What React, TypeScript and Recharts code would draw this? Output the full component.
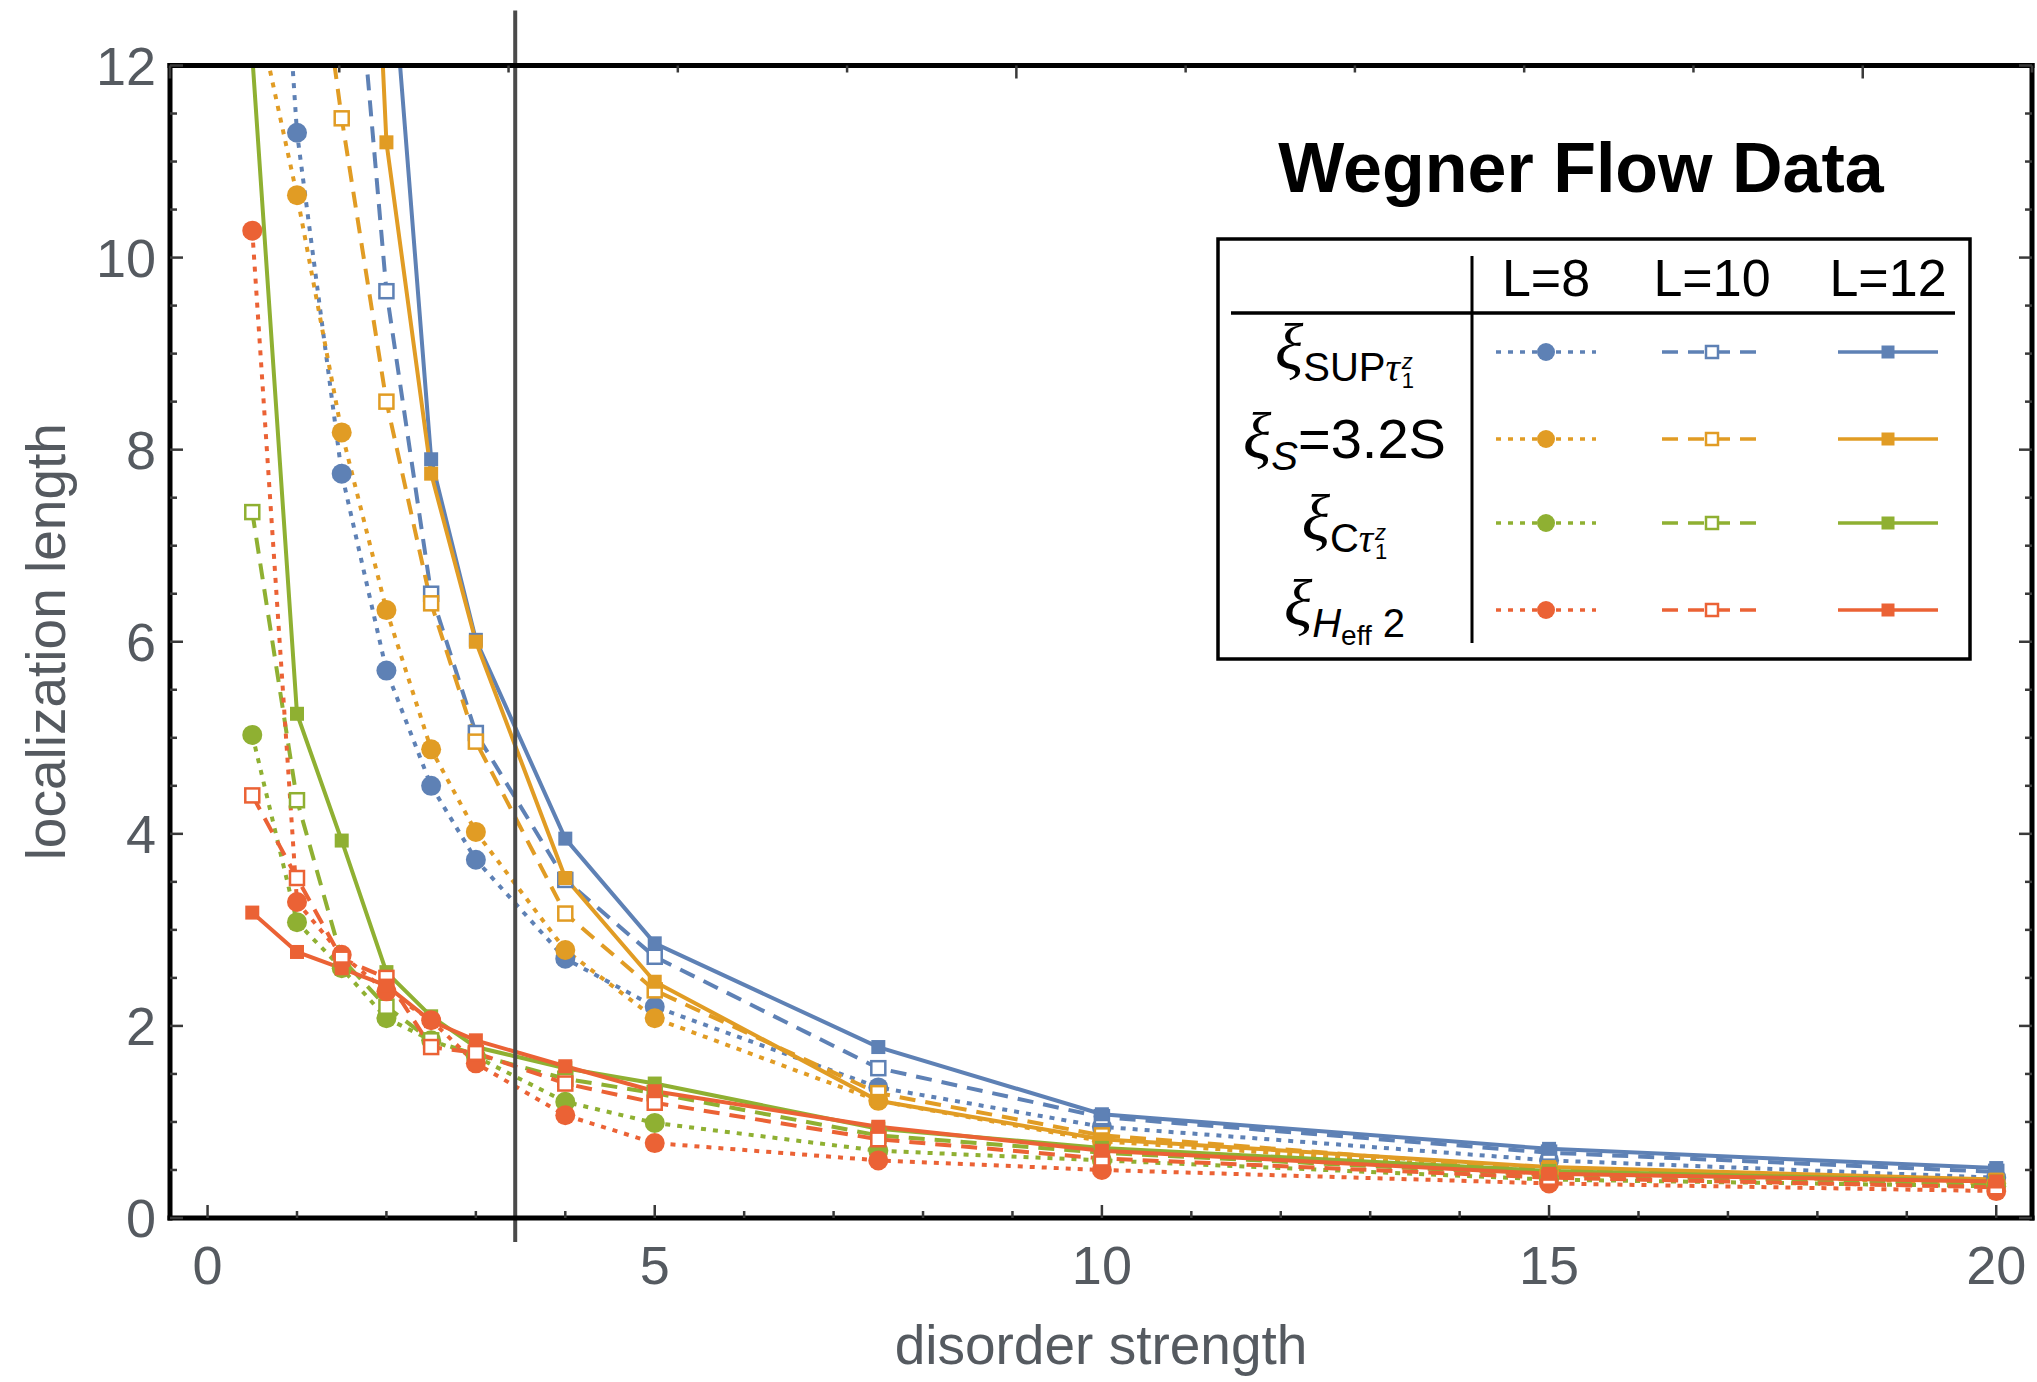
import React from 'react';
import { LineChart, Line, XAxis, YAxis, ReferenceLine, Legend } from 'recharts';

// disorder strengths where the flow was evaluated
const disorder = [0.5, 1, 1.5, 2, 2.5, 3, 4, 5, 7.5, 10, 15, 20];

// xi_SUP tau1z
const supL8 = [18.3, 11.3, 7.75, 5.7, 4.5, 3.73, 2.7, 2.2, 1.36, 0.95, 0.6, 0.42];
const supL10 = [30, 20, 15.0, 9.65, 6.5, 5.05, 3.52, 2.72, 1.56, 1.05, 0.68, 0.48];
const supL12 = [45, 30, 20, 13.8, 7.9, 6.02, 3.95, 2.86, 1.78, 1.08, 0.72, 0.52];
// xi_S = 3.2 S
const entL8 = [12.8, 10.65, 8.18, 6.33, 4.88, 4.02, 2.79, 2.08, 1.22, 0.8, 0.48, 0.36];
const entL10 = [22, 14.9, 11.45, 8.5, 6.4, 4.96, 3.17, 2.37, 1.3, 0.86, 0.5, 0.38];
const entL12 = [40, 28, 21.2, 11.2, 7.75, 6.0, 3.54, 2.46, 1.22, 0.82, 0.53, 0.4];
// xi_C tau1z
const corL8 = [5.03, 3.08, 2.6, 2.08, 1.85, 1.68, 1.21, 0.99, 0.7, 0.6, 0.4, 0.33];
const corL10 = [7.35, 4.35, 2.7, 2.2, 1.85, 1.7, 1.45, 1.3, 0.86, 0.68, 0.45, 0.35];
const corL12 = [12.1, 5.25, 3.93, 2.56, 2.1, 1.78, 1.56, 1.4, 0.93, 0.73, 0.49, 0.38];
// xi_Heff 2
const heffL8 = [10.28, 3.29, 2.74, 2.36, 2.06, 1.61, 1.07, 0.78, 0.6, 0.5, 0.36, 0.28];
const heffL10 = [4.4, 3.54, 2.7, 2.5, 1.78, 1.72, 1.4, 1.2, 0.82, 0.62, 0.42, 0.32];
const heffL12 = [3.18, 2.77, 2.6, 2.42, 2.05, 1.85, 1.58, 1.32, 0.95, 0.7, 0.46, 0.38];

const xTicks = [0, 1, 2, 3, 4, 5, 6, 7, 8, 9, 10, 11, 12, 13, 14, 15, 16, 17, 18, 19, 20];
const yTicks = [0, 0.5, 1, 1.5, 2, 2.5, 3, 3.5, 4, 4.5, 5, 5.5, 6, 6.5, 7, 7.5, 8, 8.5, 9, 9.5, 10, 10.5, 11, 11.5, 12];
const sizeLabels = ['L=8', 'L=10', 'L=12'];
const cutoff = 3.44;

const BLUE = '#5e81b5';
const ORANGE = '#e19c24';
const GREEN = '#8fb032';
const RED = '#eb6235';
const LABEL = '#555a60';
const TICK = '#3a3a3a';
const FONT = '"Liberation Sans", Arial, Helvetica, sans-serif';
const SERIF = '"Liberation Serif", "DejaVu Serif", serif';

const series = [
  { key: 'supL8', values: supL8, color: BLUE, kind: 'L8' },
  { key: 'supL10', values: supL10, color: BLUE, kind: 'L10' },
  { key: 'supL12', values: supL12, color: BLUE, kind: 'L12' },
  { key: 'entL8', values: entL8, color: ORANGE, kind: 'L8' },
  { key: 'entL10', values: entL10, color: ORANGE, kind: 'L10' },
  { key: 'entL12', values: entL12, color: ORANGE, kind: 'L12' },
  { key: 'corL8', values: corL8, color: GREEN, kind: 'L8' },
  { key: 'corL10', values: corL10, color: GREEN, kind: 'L10' },
  { key: 'corL12', values: corL12, color: GREEN, kind: 'L12' },
  { key: 'heffL8', values: heffL8, color: RED, kind: 'L8' },
  { key: 'heffL10', values: heffL10, color: RED, kind: 'L10' },
  { key: 'heffL12', values: heffL12, color: RED, kind: 'L12' },
];

const data = disorder.map((x, i) => {
  const row: Record<string, number> = { x };
  series.forEach((s) => {
    row[s.key] = s.values[i];
  });
  return row;
});

const dashFor: Record<string, string | undefined> = { L8: '5 7', L10: '16 10', L12: undefined };

const makeDot = (color: string, kind: string) => (p: any) => {
  const { cx, cy, value, index } = p;
  const key = `${color}-${kind}-${index}`;
  if (value == null || value > 12 || cx == null || cy == null) return <g key={key} />;
  if (kind === 'L8') return <circle key={key} cx={cx} cy={cy} r={10} fill={color} />;
  if (kind === 'L10')
    return <rect key={key} x={cx - 7} y={cy - 7} width={14} height={14} fill="#fff" stroke={color} strokeWidth={2.5} />;
  return <rect key={key} x={cx - 7} y={cy - 7} width={14} height={14} fill={color} />;
};

const BottomTick = (props: any) => {
  const { x, y, payload } = props;
  const v = payload.value;
  const major = v % 5 === 0;
  return (
    <g>
      <line x1={x} x2={x} y1={y} y2={y - (major ? 13 : 7)} stroke={TICK} strokeWidth={2.5} />
      {major && (
        <text x={x} y={y + 66} textAnchor="middle" fontSize={54} fill={LABEL} fontFamily={FONT}>
          {v}
        </text>
      )}
    </g>
  );
};

const TopTick = (props: any) => {
  const { x, y, payload } = props;
  const major = payload.value % 5 === 0;
  return <line x1={x} x2={x} y1={y} y2={y + (major ? 13 : 7)} stroke={TICK} strokeWidth={2.5} />;
};

const LeftTick = (props: any) => {
  const { x, y, payload } = props;
  const v = payload.value;
  const major = v % 2 === 0;
  return (
    <g>
      <line x1={x} x2={x + (major ? 13 : 7)} y1={y} y2={y} stroke={TICK} strokeWidth={2.5} />
      {major && (
        <text x={x - 14} y={y} dy="0.36em" textAnchor="end" fontSize={54} fill={LABEL} fontFamily={FONT}>
          {v}
        </text>
      )}
    </g>
  );
};

const RightTick = (props: any) => {
  const { x, y, payload } = props;
  const major = payload.value % 2 === 0;
  return <line x1={x} x2={x - (major ? 13 : 7)} y1={y} y2={y} stroke={TICK} strokeWidth={2.5} />;
};

const Stack = ({ sup, sub }: { sup: string; sub: string }) => (
  <span
    style={{
      display: 'inline-flex',
      flexDirection: 'column',
      fontSize: 22,
      lineHeight: '19px',
      verticalAlign: '12px',
      marginLeft: 2,
    }}
  >
    <span style={{ fontStyle: 'italic' }}>{sup}</span>
    <span>{sub}</span>
  </span>
);

const Xi = () => <span style={{ fontSize: 66, fontFamily: SERIF, fontStyle: 'italic' }}>ξ</span>;
const Tau = () => <span style={{ fontFamily: SERIF, fontStyle: 'italic' }}>τ</span>;

const rowLabels = [
  <span>
    <Xi />
    <span style={{ fontSize: 40, verticalAlign: '-12px' }}>
      SUP
      <Tau />
      <Stack sup="z" sub="1" />
    </span>
  </span>,
  <span>
    <Xi />
    <span style={{ fontSize: 40, verticalAlign: '-12px', fontStyle: 'italic' }}>S</span>
    <span style={{ fontSize: 56 }}>=3.2S</span>
  </span>,
  <span>
    <Xi />
    <span style={{ fontSize: 40, verticalAlign: '-12px' }}>
      C
      <Tau />
      <Stack sup="z" sub="1" />
    </span>
  </span>,
  <span>
    <Xi />
    <span style={{ fontSize: 40, verticalAlign: '-12px' }}>
      <i>H</i>
      <span style={{ fontSize: 28, verticalAlign: '-8px' }}>eff</span> 2
    </span>
  </span>,
];

const rowY = [352, 439, 523, 610];
const colX = [1546, 1712, 1888];
const rowColors = [BLUE, ORANGE, GREEN, RED];
const colKinds = ['L8', 'L10', 'L12'];

const LegendTable = () => (
  <div style={{ position: 'relative', width: 2037, height: 700, fontFamily: FONT, pointerEvents: 'none' }}>
    <svg width={2037} height={700} style={{ position: 'absolute', left: 0, top: 0 }}>
      <text x={1581} y={192} textAnchor="middle" fontSize={70} fontWeight="bold" fill="#000" fontFamily={FONT}>
        Wegner Flow Data
      </text>
      <rect x={1218} y={239} width={752} height={420} fill="#fff" stroke="#000" strokeWidth={3.5} />
      <line x1={1472} x2={1472} y1={256} y2={643} stroke="#000" strokeWidth={3} />
      <line x1={1231} x2={1955} y1={313} y2={313} stroke="#000" strokeWidth={3.5} />
      {sizeLabels.map((s, j) => (
        <text key={s} x={colX[j]} y={296} textAnchor="middle" fontSize={52} fill="#000" fontFamily={FONT}>
          {s}
        </text>
      ))}
      {rowY.map((y, i) =>
        colKinds.map((kind, j) => {
          const c = rowColors[i];
          const cx = colX[j];
          return (
            <g key={`${i}-${j}`}>
              <line x1={cx - 50} x2={cx + 50} y1={y} y2={y} stroke={c} strokeWidth={3.5} strokeDasharray={dashFor[kind]} />
              {kind === 'L8' && <circle cx={cx} cy={y} r={9} fill={c} />}
              {kind === 'L10' && <rect x={cx - 6} y={y - 6} width={12} height={12} fill="#fff" stroke={c} strokeWidth={2.5} />}
              {kind === 'L12' && <rect x={cx - 6.5} y={y - 6.5} width={13} height={13} fill={c} />}
            </g>
          );
        })
      )}
    </svg>
    {rowLabels.map((lab, i) => (
      <div
        key={i}
        style={{
          position: 'absolute',
          left: 1222,
          width: 245,
          top: rowY[i] - 50,
          height: 100,
          display: 'flex',
          alignItems: 'center',
          justifyContent: 'center',
          whiteSpace: 'nowrap',
          lineHeight: 1,
          color: '#000',
        }}
      >
        {lab}
      </div>
    ))}
  </div>
);

export default function App() {
  return (
    <div style={{ position: 'absolute', left: 0, top: 0, width: 2037, height: 1382, background: '#fff', fontFamily: FONT }}>
      <LineChart width={2037} height={1382} data={data} margin={{ top: 64.5, right: 4, bottom: 163, left: 169 }}>
        <XAxis
          dataKey="x"
          type="number"
          domain={[-0.42, 20.4]}
          allowDataOverflow
          ticks={xTicks}
          interval={0}
          height={1}
          tickSize={0}
          tickMargin={0}
          tickLine={false}
          tick={<BottomTick />}
          axisLine={{ stroke: '#000', strokeWidth: 5, strokeLinecap: 'square' }}
          label={{
            content: (p: any) => {
              const vb = p.viewBox;
              return (
                <text x={vb.x + vb.width / 2} y={vb.y + 146} textAnchor="middle" fontSize={55} fill={LABEL} fontFamily={FONT}>
                  disorder strength
                </text>
              );
            },
          }}
        />
        <XAxis
          xAxisId="top"
          orientation="top"
          type="number"
          domain={[-0.42, 20.4]}
          allowDataOverflow
          ticks={xTicks}
          interval={0}
          height={1}
          tickSize={0}
          tickMargin={0}
          tickLine={false}
          tick={<TopTick />}
          axisLine={{ stroke: '#000', strokeWidth: 5, strokeLinecap: 'square' }}
        />
        <YAxis
          type="number"
          domain={[0, 12]}
          allowDataOverflow
          ticks={yTicks}
          interval={0}
          width={1}
          tickSize={0}
          tickMargin={0}
          tickLine={false}
          tick={<LeftTick />}
          axisLine={{ stroke: '#000', strokeWidth: 5, strokeLinecap: 'square' }}
          label={{
            content: (p: any) => {
              const vb = p.viewBox;
              const cx = vb.x + vb.width - 105;
              const cy = vb.y + vb.height / 2;
              return (
                <text x={cx} y={cy} transform={`rotate(-90 ${cx} ${cy})`} textAnchor="middle" fontSize={55} fill={LABEL} fontFamily={FONT}>
                  localization length
                </text>
              );
            },
          }}
        />
        <YAxis
          yAxisId="right"
          orientation="right"
          type="number"
          domain={[0, 12]}
          allowDataOverflow
          ticks={yTicks}
          interval={0}
          width={1}
          tickSize={0}
          tickMargin={0}
          tickLine={false}
          tick={<RightTick />}
          axisLine={{ stroke: '#000', strokeWidth: 5, strokeLinecap: 'square' }}
        />
        {series.map((s) => (
          <Line
            key={s.key}
            dataKey={s.key}
            type="linear"
            stroke={s.color}
            strokeWidth={4}
            strokeDasharray={dashFor[s.kind]}
            dot={makeDot(s.color, s.kind)}
            activeDot={false}
            isAnimationActive={false}
          />
        ))}
        <ReferenceLine
          x={cutoff}
          shape={(p: any) => (
            <line
              x1={p.x1}
              x2={p.x2}
              y1={Math.min(p.y1, p.y2) - 55}
              y2={Math.max(p.y1, p.y2) + 24}
              stroke="#4a4a4a"
              strokeWidth={4}
            />
          )}
        />
        <Legend
          layout="vertical"
          align="center"
          verticalAlign="middle"
          content={() => <LegendTable />}
          wrapperStyle={{ left: 0, top: 0, width: 2037, height: 700 }}
        />
      </LineChart>
    </div>
  );
}
